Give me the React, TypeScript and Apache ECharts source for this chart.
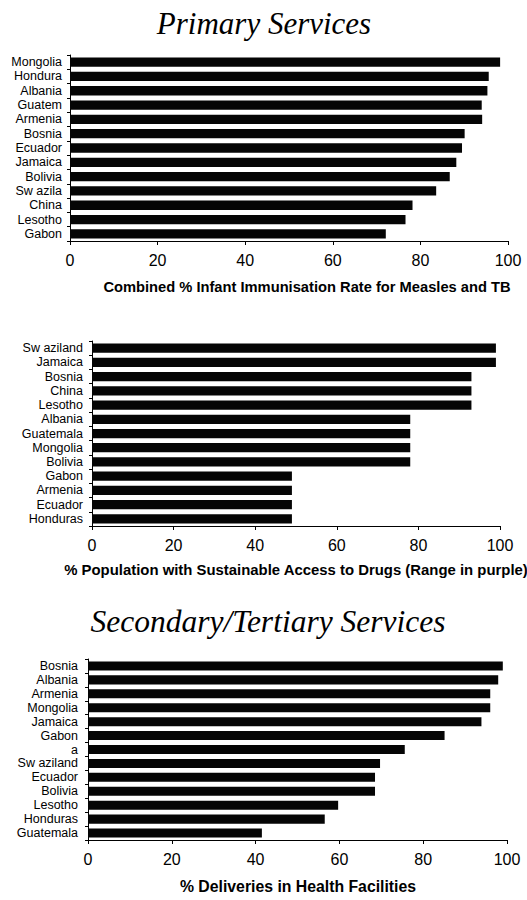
import React, { useEffect, useRef } from "react";
import * as echarts from "echarts";

const titleTop = "Primary Services";
const titleMid = "Secondary/Tertiary Services";

const cat1 = ["Mongolia", "Hondura", "Albania", "Guatem", "Armenia", "Bosnia", "Ecuador", "Jamaica", "Bolivia", "Sw azila", "China", "Lesotho", "Gabon"];
const val1 = [98.2, 95.6, 95.3, 94.0, 94.1, 90.1, 89.5, 88.2, 86.7, 83.6, 78.2, 76.6, 72.1];
const name1 = "Combined % Infant Immunisation Rate for Measles and TB";

const cat2 = ["Sw aziland", "Jamaica", "Bosnia", "China", "Lesotho", "Albania", "Guatemala", "Mongolia", "Bolivia", "Gabon", "Armenia", "Ecuador", "Honduras"];
const val2 = [99, 99, 93, 93, 93, 78, 78, 78, 78, 49, 49, 49, 49];
const name2 = "% Population with Sustainable Access to Drugs (Range in purple)";

const cat3 = ["Bosnia", "Albania", "Armenia", "Mongolia", "Jamaica", "Gabon", "a", "Sw aziland", "Ecuador", "Bolivia", "Lesotho", "Honduras", "Guatemala"];
const val3 = [99.0, 97.9, 96.0, 96.0, 93.9, 85.1, 75.6, 69.7, 68.5, 68.5, 59.7, 56.5, 41.5];
const name3 = "% Deliveries in Health Facilities";

const ticks = [0, 20, 40, 60, 80, 100];

const FONT = "Liberation Sans, Arial, sans-serif";
const SERIF = "Liberation Serif, Times New Roman, serif";

export default function App() {
  const ref = useRef<HTMLDivElement>(null);
  useEffect(() => {
    if (!ref.current) return;
    const chart = echarts.init(ref.current, null, { renderer: "svg" });
    const grids = [
      { left: 70, width: 438, top: 55, height: 186 },
      { left: 92, width: 408, top: 341, height: 185 },
      { left: 88, width: 419, top: 659, height: 181 },
    ];
    const cats = [cat1, cat2, cat3];
    const vals = [val1, val2, val3];
    const names = [name1, name2, name3];
    const namePos = [
      { x: 307, y: 287, size: 14.7 },
      { x: 296, y: 570, size: 14.9 },
      { x: 298, y: 886, size: 15.8 },
    ];
    const labelMargins = [8, 9, 10];

    const xAxis = grids.map((_, i) => ({
      type: "value",
      gridIndex: i,
      min: ticks[0],
      max: ticks[ticks.length - 1],
      interval: ticks[1] - ticks[0],
      splitLine: { show: false },
      axisLine: { show: true, lineStyle: { color: "#000", width: 1 } },
      axisTick: { show: true, length: 4, lineStyle: { color: "#000" } },
      axisLabel: { color: "#000", fontSize: 16, fontFamily: FONT, margin: 11 },
    }));
    const yAxis = grids.map((_, i) => ({
      type: "category",
      gridIndex: i,
      data: cats[i],
      inverse: true,
      axisLine: { show: true, lineStyle: { color: "#000", width: 1 } },
      axisTick: { show: true, length: 3, inside: false, lineStyle: { color: "#000" } },
      axisLabel: { color: "#000", fontSize: 12.5, fontFamily: FONT, margin: labelMargins[i], interval: 0 },
      splitLine: { show: false },
    }));
    const series = grids.map((_, i) => ({
      type: "bar",
      xAxisIndex: i,
      yAxisIndex: i,
      data: vals[i],
      barCategoryGap: "35%",
      itemStyle: { color: "#050505" },
    }));

    const graphic = names.map((n, i) => ({
      type: "text",
      x: namePos[i].x,
      y: namePos[i].y,
      style: {
        text: n,
        fill: "#000",
        font: `bold ${namePos[i].size}px ${FONT}`,
        textAlign: "center",
        textVerticalAlign: "middle",
      },
    }));

    chart.setOption({
      animation: false,
      backgroundColor: "#fff",
      title: [
        {
          text: titleTop,
          left: 259,
          top: 3,
          textAlign: "center",
          textStyle: { fontFamily: SERIF, fontStyle: "italic", fontWeight: "normal", fontSize: 31, color: "#000" },
        },
        {
          text: titleMid,
          left: 263,
          top: 600,
          textAlign: "center",
          textStyle: { fontFamily: SERIF, fontStyle: "italic", fontWeight: "normal", fontSize: 31.5, color: "#000" },
        },
      ],
      grid: grids,
      xAxis,
      yAxis,
      series,
      graphic,
    });
    return () => chart.dispose();
  }, []);
  return (
    <div
      ref={ref}
      style={{ position: "absolute", left: 0, top: 0, width: 527, height: 900, background: "#fff" }}
    />
  );
}
